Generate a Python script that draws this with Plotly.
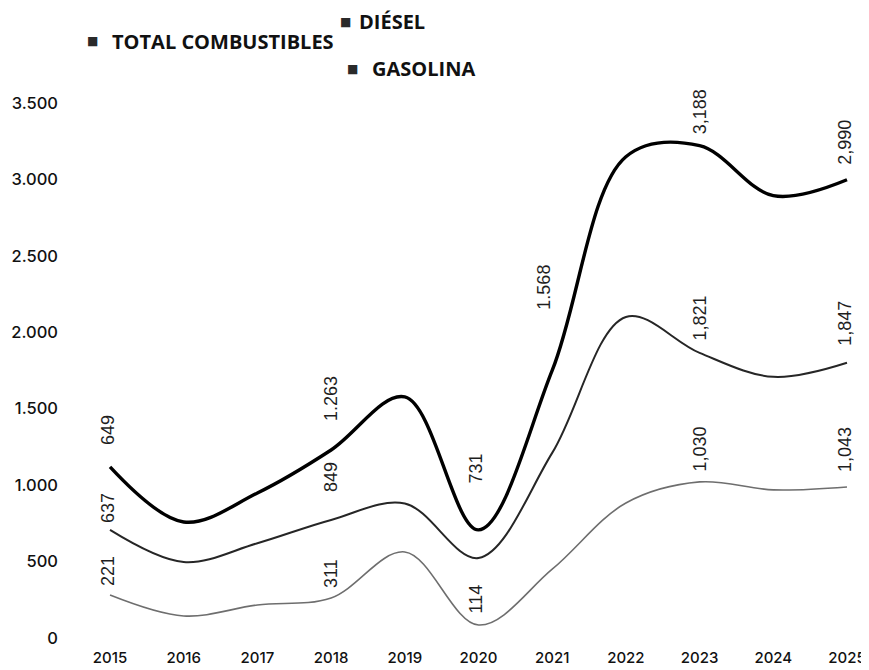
import plotly.graph_objects as go

years = [2015, 2016, 2017, 2018, 2019, 2020, 2021, 2022, 2023, 2024, 2025]
total = [1119, 759, 949, 1230, 1577, 707, 1750, 3148, 3220, 2893, 2997]
diesel = [707, 497, 620, 772, 880, 523, 1211, 2100, 1865, 1708, 1800]
gasolina = [281, 144, 216, 262, 563, 85, 450, 883, 1021, 969, 988]

# value labels printed on the chart (text as shown)
total_label_years = [2015, 2018, 2020, 2021, 2023, 2025]
total_label_texts = ["649", "1.263", "731", "1.568", "3,188", "2,990"]
diesel_label_years = [2015, 2018, 2023, 2025]
diesel_label_texts = ["637", "849", "1,821", "1,847"]
gas_label_years = [2015, 2018, 2020, 2023, 2025]
gas_label_texts = ["221", "311", "114", "1,030", "1,043"]

y_ticks = [0, 500, 1000, 1500, 2000, 2500, 3000, 3500]

# styling: pixel offsets (dx, dy) of label centres from their points
total_shift = [(-2, 37), (0, 51), (-3, 61), (-8, 83), (0, 34), (-2, 38)]
diesel_shift = [(-2, 22), (0, 43), (0, 35), (-2, 40)]
gas_shift = [(-2, 24), (0, 24), (-2, 26), (0, 33), (-2, 38)]

# the page adds an 8px body margin, so the figure is drawn 8px smaller
W, H = 861, 662
L, R, T, B = 62, 10, 66, 31

fig = go.Figure()
fig.add_trace(go.Scatter(x=years, y=gasolina, mode="lines", name="GASOLINA",
                         line=dict(color="#6e6e6e", width=1.6, shape="spline", smoothing=1)))
fig.add_trace(go.Scatter(x=years, y=diesel, mode="lines", name="DIÉSEL",
                         line=dict(color="#262626", width=2, shape="spline", smoothing=1)))
fig.add_trace(go.Scatter(x=years, y=total, mode="lines", name="TOTAL COMBUSTIBLES",
                         line=dict(color="#000000", width=3.4, shape="spline", smoothing=1)))

annotations = []
label_font = dict(family="Liberation Sans, Arial, sans-serif", size=18, color="#1e1e1e")


def add_labels(yrs, texts, series, shifts):
    for yr, t, (dx, dy) in zip(yrs, texts, shifts):
        annotations.append(dict(
            x=yr, y=series[years.index(yr)], xref="x", yref="y", text=t,
            showarrow=False, textangle=-90, xanchor="center", yanchor="middle",
            xshift=dx, yshift=dy, font=label_font))


add_labels(total_label_years, total_label_texts, total, total_shift)
add_labels(diesel_label_years, diesel_label_texts, diesel, diesel_shift)
add_labels(gas_label_years, gas_label_texts, gasolina, gas_shift)


def px_to_paper(px, py):
    return (px - L) / (W - L - R), ((H - B) - py) / (H - T - B)


# legend made of squares + bold text (figure pixel positions)
legend_font = dict(family="Open Sans, sans-serif", size=20, color="#111", weight="bold")
square_font = dict(family="DejaVu Sans", size=12, color="#2a2a2a")
legend_items = [("TOTAL COMBUSTIBLES", 84, 102, 33),
                ("DIÉSEL", 337, 349, 14),
                ("GASOLINA", 344, 362, 61)]
for name, sx, tx, py in legend_items:
    x0, y0 = px_to_paper(sx, py)
    x1, _ = px_to_paper(tx, py)
    annotations.append(dict(x=x0, y=y0, xref="paper", yref="paper",
                            text="■", showarrow=False, xanchor="center", yanchor="middle",
                            font=square_font))
    annotations.append(dict(x=x1, y=y0, xref="paper", yref="paper",
                            text=name, showarrow=False, xanchor="left", yanchor="middle",
                            font=legend_font))

fig.update_layout(
    width=W, height=H,
    paper_bgcolor="white", plot_bgcolor="white",
    margin=dict(l=L, r=R, t=T, b=B, autoexpand=False),
    showlegend=False,
    separators=",.",
    annotations=annotations,
    font=dict(family="Inter, sans-serif", size=16, color="#111"),
)

fig.update_xaxes(range=[2014.457, 2025.163], tickvals=years, ticktext=[str(y) for y in years],
                 showgrid=False, zeroline=False, showline=False, ticks="",
                 ticklabelstandoff=8, ticklabeloverflow="allow", automargin=False,
                 tickfont=dict(family="Inter, sans-serif", size=15, color="#111", weight=500))
fig.update_yaxes(range=[-6.5, 3689], tickvals=y_ticks, tickformat=",d",
                 showgrid=False, zeroline=False, showline=False, ticks="",
                 ticklabelstandoff=11, automargin=False,
                 tickfont=dict(family="Inter, sans-serif", size=16.5, color="#111", weight=500))

fig.write_html("out.html")
